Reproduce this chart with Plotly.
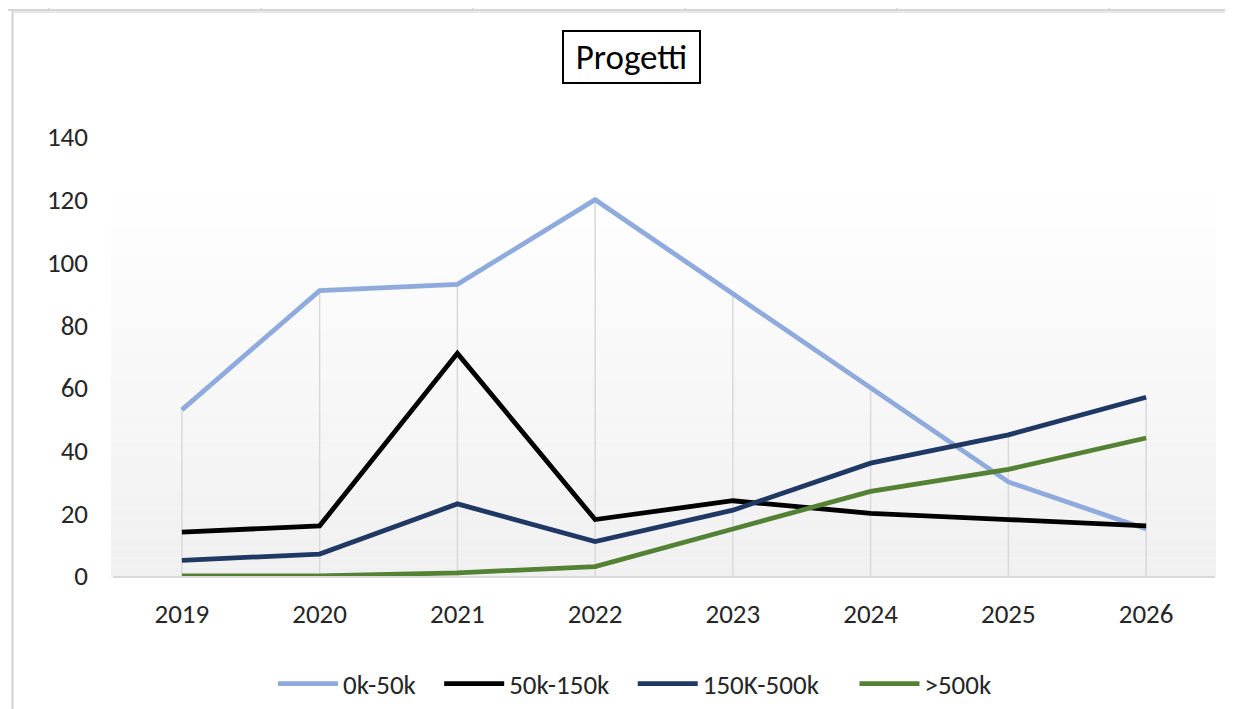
import plotly.graph_objects as go

W, H = 1233, 709
OFF = 8  # page body margin offset of the browser

years = [2019, 2020, 2021, 2022, 2023, 2024, 2025, 2026]
series_names = ["0k-50k", "50k-150k", "150K-500k", ">500k"]
s_0_50 = [53, 91, 93, 120, 90, 60, 30, 15]
s_50_150 = [14, 16, 71, 18, 24, 20, 18, 16]
s_150_500 = [5, 7, 23, 11, 21, 36, 45, 57]
s_500 = [0, 0, 1, 3, 15, 27, 34, 44]
y_ticks = [0, 20, 40, 60, 80, 100, 120, 140]
title_text = "Progetti"

colors = ["#8FAADC", "#000000", "#203864", "#548235"]
FONT = "Calibri, Carlito, Lato, sans-serif"
pads = [3, 3, 5, 3]


def px(x):
    return (x - OFF) / W


def py(y):
    return 1 - (y - OFF) / H


fig = go.Figure()

all_series = [s_0_50, s_50_150, s_150_500, s_500]
dx, dy = [], []
for i, yr in enumerate(years):
    top = max(s[i] for s in all_series)
    dx += [yr, yr, None]
    dy += [0, top, None]
fig.add_trace(go.Scatter(x=dx, y=dy, mode="lines", line=dict(color="#D9D9D9", width=1.5),
                         showlegend=False, hoverinfo="skip"))

for name, vals, c, p in zip(series_names, all_series, colors, pads):
    fig.add_trace(go.Scatter(x=years, y=vals, mode="lines", name=name + "\u00a0" * p,
                             line=dict(color=c, width=4.8)))

shapes = []
top_px, bot_px = 187, 577
n = 40
for k in range(n):
    y0 = top_px + (bot_px - top_px) * k / n
    y1 = top_px + (bot_px - top_px) * (k + 1) / n
    t = (k + 0.5) / n
    v = round(255 - t * (255 - 240))
    col = f"rgb({v},{v},{v})"
    shapes.append(dict(type="rect", xref="paper", yref="paper", x0=px(111), x1=px(1216),
                       y0=py(y1), y1=py(y0), fillcolor=col, line=dict(width=0), layer="below"))

# spreadsheet chrome
shapes.append(dict(type="line", xref="paper", yref="paper", x0=0, x1=1, y0=py(10), y1=py(10),
                   line=dict(color="#C8C8C8", width=1.5)))
for xs in [49, 261, 473, 685, 897, 1109]:
    shapes.append(dict(type="line", xref="paper", yref="paper", x0=px(xs), x1=px(xs), y0=py(10), y1=1,
                       line=dict(color="#C8C8C8", width=1)))
shapes.append(dict(type="line", xref="paper", yref="paper", x0=px(12.5), x1=px(12.5), y0=0, y1=py(11),
                   line=dict(color="#D0D0D0", width=2)))
shapes.append(dict(type="line", xref="paper", yref="paper", x0=px(12), x1=1, y0=py(12), y1=py(12),
                   line=dict(color="#E0E0E0", width=1.5)))

fig.update_layout(
    width=W, height=H, autosize=False,
    margin=dict(l=0, r=0, t=0, b=0, pad=0, autoexpand=False),
    paper_bgcolor="#FFFFFF", plot_bgcolor="rgba(0,0,0,0)",
    font=dict(family=FONT, color="#404040"),
    shapes=shapes,
    showlegend=True,
    legend=dict(orientation="h", x=px(273), xanchor="left", y=py(684), yanchor="middle",
                font=dict(size=27, color="#262626", family=FONT), itemwidth=60,
                bgcolor="rgba(0,0,0,0)", tracegroupgap=0, traceorder="normal"),
    annotations=[dict(text=title_text, xref="paper", yref="paper", x=px(631.5), y=py(57),
                      xanchor="center", yanchor="middle", showarrow=False,
                      width=135, height=50, borderpad=0,
                      font=dict(size=35, color="#000000", family=FONT),
                      bordercolor="#000000", borderwidth=2, bgcolor="#FFFFFF")],
    xaxis=dict(domain=[px(113), px(1215)], range=[2018.5, 2026.5], tickvals=years,
               ticktext=[str(y) for y in years], showgrid=False, zeroline=False,
               showline=True, linecolor="#D9D9D9", linewidth=2, ticks="", automargin=False,
               tickfont=dict(size=27, color="#262626"), ticklabelstandoff=13),
    yaxis=dict(domain=[py(576), py(137)], range=[0, 140], tickvals=y_ticks, showgrid=False,
               zeroline=False, showline=False, ticks="", automargin=False,
               tickfont=dict(size=27, color="#262626"), ticklabelstandoff=24),
)

fig.write_html("out.html")
